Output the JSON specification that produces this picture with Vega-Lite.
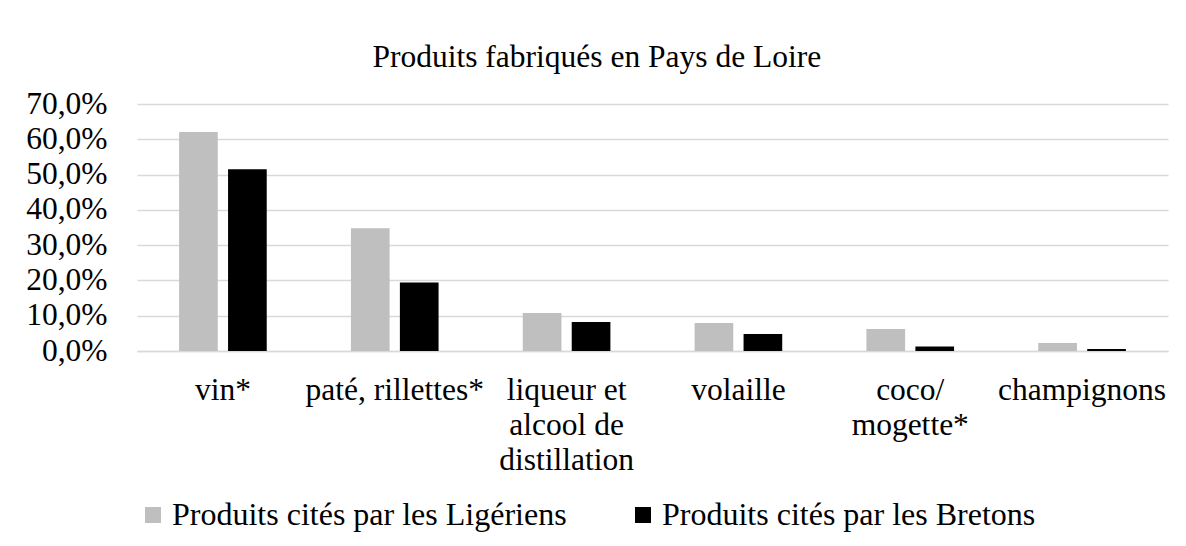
{
  "$schema": "https://vega.github.io/schema/vega-lite/v6.json",
  "autosize": {"type": "none"},
  "width": 1031,
  "height": 247,
  "padding": {"left": 137, "top": 104, "right": 18, "bottom": 195},
  "background": "white",
  "title": {
    "text": "Produits fabriqués en Pays de Loire",
    "font": "Times New Roman, Liberation Serif, serif",
    "fontSize": 31.5,
    "fontWeight": "normal",
    "color": "#000000",
    "anchor": "middle",
    "frame": "bounds",
    "offset": 15
  },
  "data": {
    "values": [
      {"produit": "vin*", "serie": "Produits cités par les Ligériens", "valeur": 0.621},
      {"produit": "vin*", "serie": "Produits cités par les Bretons", "valeur": 0.515},
      {"produit": "paté, rillettes*", "serie": "Produits cités par les Ligériens", "valeur": 0.348},
      {"produit": "paté, rillettes*", "serie": "Produits cités par les Bretons", "valeur": 0.194},
      {"produit": "liqueur et alcool de distillation", "serie": "Produits cités par les Ligériens", "valeur": 0.108},
      {"produit": "liqueur et alcool de distillation", "serie": "Produits cités par les Bretons", "valeur": 0.082},
      {"produit": "volaille", "serie": "Produits cités par les Ligériens", "valeur": 0.079},
      {"produit": "volaille", "serie": "Produits cités par les Bretons", "valeur": 0.048},
      {"produit": "coco/ mogette*", "serie": "Produits cités par les Ligériens", "valeur": 0.062},
      {"produit": "coco/ mogette*", "serie": "Produits cités par les Bretons", "valeur": 0.013},
      {"produit": "champignons", "serie": "Produits cités par les Ligériens", "valeur": 0.023},
      {"produit": "champignons", "serie": "Produits cités par les Bretons", "valeur": 0.006}
    ]
  },
  "mark": {"type": "bar"},
  "encoding": {
    "x": {
      "field": "produit",
      "type": "nominal",
      "sort": null,
      "scale": {"paddingInner": 0.49, "paddingOuter": 0.245},
      "axis": {
        "title": null,
        "labelAngle": 0,
        "labelFont": "Times New Roman, Liberation Serif, serif",
        "labelFontSize": 31.5,
        "labelColor": "#000000",
        "labelLineHeight": 35,
        "labelPadding": 23,
        "labelBaseline": "top",
        "labelLimit": 0,
        "ticks": false,
        "domainColor": "#d9d9d9",
        "domainWidth": 1.5,
        "labelExpr": "datum.value == 'liqueur et alcool de distillation' ? ['liqueur et', 'alcool de', 'distillation'] : datum.value == 'coco/ mogette*' ? ['coco/', 'mogette*'] : datum.value"
      }
    },
    "xOffset": {
      "field": "serie",
      "type": "nominal",
      "sort": ["Produits cités par les Ligériens", "Produits cités par les Bretons"],
      "scale": {"paddingInner": 0.21, "paddingOuter": 0}
    },
    "y": {
      "field": "valeur",
      "type": "quantitative",
      "scale": {"domain": [0, 0.7], "nice": false},
      "axis": {
        "title": null,
        "values": [0, 0.1, 0.2, 0.3, 0.4, 0.5, 0.6, 0.7],
        "labelExpr": "replace(format(datum.value, '.1%'), '.', ',')",
        "labelFont": "Times New Roman, Liberation Serif, serif",
        "labelFontSize": 31.5,
        "labelColor": "#000000",
        "labelPadding": 30,
        "ticks": false,
        "domain": false,
        "gridColor": "#d9d9d9",
        "gridWidth": 1.5
      }
    },
    "color": {
      "field": "serie",
      "type": "nominal",
      "sort": ["Produits cités par les Ligériens", "Produits cités par les Bretons"],
      "scale": {"domain": ["Produits cités par les Ligériens", "Produits cités par les Bretons"], "range": ["#bfbfbf", "#000000"]},
      "legend": {
        "title": null,
        "orient": "bottom",
        "direction": "horizontal",
        "symbolType": "square",
        "symbolSize": 256,
        "symbolStrokeWidth": 0,
        "labelFont": "Times New Roman, Liberation Serif, serif",
        "labelFontSize": 32,
        "labelColor": "#000000",
        "labelLimit": 0,
        "labelOffset": 3,
        "columnPadding": 60,
        "offset": 23
      }
    }
  },
  "config": {
    "view": {"stroke": null}
  }
}
